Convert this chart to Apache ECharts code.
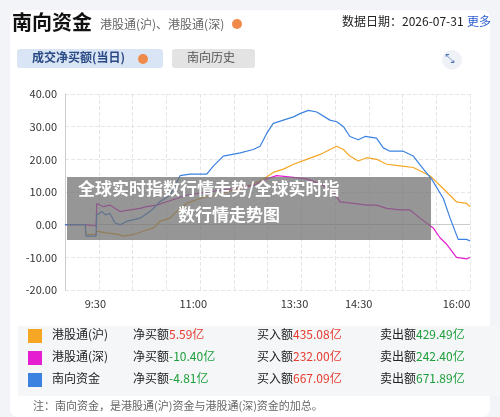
<!DOCTYPE html>
<html><head><meta charset="utf-8">
<script src="https://cdn.jsdelivr.net/npm/echarts@6/dist/echarts.min.js"></script>
<style>html,body{margin:0;padding:0;background:#f2f4f7}#c{width:500px;height:417px}</style>
</head><body><div id="c"></div>
<script>
// x = position index along the trading day (0..120)
const tickPos = [9, 38, 68, 87, 116];
const tickLabels = ['9:30', '11:00', '13:30', '14:30', '16:00'];
const yTicks = [-20, -10, 0, 10, 20, 30, 40];

const blueX = [0,6,6.2,9.2,9.4,11,12,13.3,14.8,16.3,18.3,22.2,25.2,28.1,31.1,34.1,37,42,44,46.9,51.9,55.8,57.8,59.8,61.7,64.7,67.7,69.6,72.1,74.6,78.5,80.5,82.5,84.4,86.9,88.9,92.3,94.3,96.3,100.2,103.2,106.2,108.6,112.1,114.1,116.5,119,120];
const blueY = [0,0,-3.5,-3.5,3,4,3,3.5,0.5,0,1,2,4,7,9,15,15.5,15.5,18,21,22,23,24,28,31,32,33,34,35,34.5,32,31.5,30,27,26,27,26.5,23.5,22.5,22.5,21,17,14,8,2,-4.5,-4.5,-5];

const magX = [0,6,6.2,9.2,9.4,11.4,13.3,16.3,19.3,22.2,24.2,27.2,30.1,33.1,36,42,49.9,55.8,59.8,62.7,67.7,71.6,75.6,79.5,81.5,85.4,89.4,92.3,95.3,99.3,102.2,105.2,109.1,111.1,113.1,116,119,120];
const magY = [0,0,-0.4,-0.4,6.5,5.5,6,4,4.5,5,5.5,6,7,8,9,10,11,12,14,15,14.5,14,12.5,10,7,6.5,6,6,5,4.5,4.5,2,-1,-4,-6,-10,-10.5,-10];

const oraX = [0,6,6.2,9.2,9.4,12.3,15.8,17.3,20.2,23.2,26.2,28.1,31.1,33.1,36,40,44,47.9,51.9,55.8,58.8,61.7,64.7,67.7,71.6,75.6,78.5,80.5,82.5,84.4,86.9,89.4,92.3,95.3,99.3,103.2,108.1,112.1,116,119,120];
const oraY = [0,0,-3,-3,-2,-2.5,-3,-3.5,-3,-2,-1,1,2,4,6.5,8,9,10,11,12.5,14,16,17,18.5,20,21.5,23,24,23,21,19.5,20.5,20,18.5,18,17.5,15,11,7,6.5,5.5];

const names = ['港股通(沪)', '港股通(深)', '南向资金'];
const colors = ['#f5a623', '#e61ed2', '#3b82e0'];
const netBuy = ['5.59亿', '-10.40亿', '-4.81亿'];
const buyAmt = ['435.08亿', '232.00亿', '667.09亿'];
const sellAmt = ['429.49亿', '242.40亿', '671.89亿'];

const pair = (xs, ys) => xs.map((x, i) => [x, ys[i]]);
const F = '"Noto Sans CJK SC","Noto Sans",sans-serif';
const chart = echarts.init(document.getElementById('c'));

const g = [
  {type:'rect', shape:{x:10,y:10,width:480,height:407,r:8}, style:{fill:'#fff'}, z:-10},
  {type:'text', left:12, top:12, style:{text:'南向资金', font:'bold 20px '+F, fill:'#111'}},
  {type:'text', left:100, top:18, style:{text:'港股通(沪)、港股通(深)', font:'12px '+F, fill:'#666'}},
  {type:'circle', shape:{cx:237,cy:24,r:5}, style:{fill:'#f08a4b'}},
  {type:'text', left:342, top:15, style:{text:'数据日期：2026-07-31', font:'12px '+F, fill:'#222'}},
  {type:'text', left:467, top:15, style:{text:'更多', font:'12px '+F, fill:'#2c5fd0'}},
  {type:'rect', shape:{x:17,y:49,width:146,height:19,r:3}, style:{fill:'#d9e4f4'}},
  {type:'text', left:32, top:51, style:{text:'成交净买额(当日)', font:'bold 12px '+F, fill:'#2a4a86'}},
  {type:'circle', shape:{cx:143,cy:59,r:5}, style:{fill:'#f08a4b'}},
  {type:'rect', shape:{x:172,y:49,width:83,height:19,r:3}, style:{fill:'#e3e3e3'}},
  {type:'text', left:187, top:51, style:{text:'南向历史', font:'12px '+F, fill:'#555'}},
  {type:'circle', shape:{cx:452,cy:60,r:10}, style:{fill:'#eef1f6'}},
  {type:'text', left:445, top:52, style:{text:'⤡', font:'12px '+F, fill:'#4a6fb0'}},
  {type:'rect', shape:{x:18,y:326,width:482,height:70}, style:{fill:'#f4f6f8'}},
  {type:'text', left:33, top:400, style:{text:'注：南向资金，是港股通(沪)资金与港股通(深)资金的加总。', font:'11px '+F, fill:'#666'}},
  {type:'rect', shape:{x:67,y:177,width:364,height:63}, style:{fill:'rgba(110,110,110,0.72)'}, z:100},
  {type:'text', left:78, top:180, style:{text:'全球实时指数行情走势/全球实时指', font:'bold 17px '+F, fill:'#fff'}, z:101},
  {type:'text', left:178, top:206, style:{text:'数行情走势图', font:'bold 17px '+F, fill:'#fff'}, z:101}
];
const rowY = [336, 358, 380];
names.forEach((n, i) => {
  const y = rowY[i];
  const red = '#e63b2e', green = '#1d9e3a';
  g.push({type:'rect', shape:{x:28,y:y-7,width:14,height:14}, style:{fill:colors[i]}});
  g.push({type:'text', left:52, top:y-8, style:{text:n, font:'12px '+F, fill:'#222'}});
  g.push({type:'text', left:133, top:y-8, style:{rich:{a:{font:'12px '+F,fill:'#222'},b:{font:'12px '+F,fill:netBuy[i][0]==='-'?green:red}}, text:'{a|净买额}{b|'+netBuy[i]+'}'}});
  g.push({type:'text', left:257, top:y-8, style:{rich:{a:{font:'12px '+F,fill:'#222'},b:{font:'12px '+F,fill:red}}, text:'{a|买入额}{b|'+buyAmt[i]+'}'}});
  g.push({type:'text', left:380, top:y-8, style:{rich:{a:{font:'12px '+F,fill:'#222'},b:{font:'12px '+F,fill:green}}, text:'{a|卖出额}{b|'+sellAmt[i]+'}'}});
});

const ser = (xs, ys, c) => ({type:'line', data:pair(xs, ys), showSymbol:false, lineStyle:{width:1.2, color:c}, itemStyle:{color:c}, z:3});
chart.setOption({
  animation:false,
  grid:{left:65, right:30, top:94, bottom:127},
  xAxis:{type:'value', min:0, max:120,
    axisLine:{show:true, lineStyle:{color:'#ccc'}}, axisTick:{show:false},
    splitLine:{show:true, lineStyle:{type:'dashed', color:'#e6e6e6'}, },
    axisLabel:{customValues:tickPos, formatter:v=>tickLabels[tickPos.indexOf(v)], color:'#333', fontSize:11, fontFamily:F},
    splitNumber:10},
  yAxis:{type:'value', min:-20, max:40, interval:10,
    axisLine:{show:true, lineStyle:{color:'#ccc'}}, axisTick:{show:false},
    splitLine:{lineStyle:{type:'dashed', color:'#e6e6e6'}},
    axisLabel:{formatter:v=>v.toFixed(2), color:'#333', fontSize:11, fontFamily:F}},
  graphic:g,
  series:[ser(oraX, oraY, colors[0]), ser(magX, magY, colors[1]), ser(blueX, blueY, colors[2])]
});
</script></body></html>
